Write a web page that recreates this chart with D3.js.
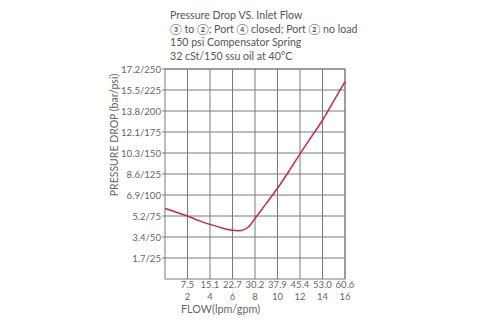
<!DOCTYPE html>
<html><head><meta charset="utf-8">
<script src="https://cdn.jsdelivr.net/npm/d3@7"></script>
<style>body{margin:0;background:#fff}svg{display:block}text{font-family:Lato,"Noto Sans","Noto Sans CJK SC",sans-serif;fill:#666}</style>
</head><body>
<svg id="c" width="478" height="330"></svg>
<script>
const titleLines = ["Pressure Drop VS. Inlet Flow","③ to ②; Port ④ closed; Port ② no load","150 psi Compensator Spring","32 cSt/150 ssu oil at 40°C"];
const xTicksGpm = [2,4,6,8,10,12,14,16];
const xTicksLpm = ["7.5","15.1","22.7","30.2","37.9","45.4","53.0","60.6"];
const yTicksPsi = [25,50,75,100,125,150,175,200,225,250];
const yTicksBar = ["1.7","3.4","5.2","6.9","8.6","10.3","12.1","13.8","15.5","17.2"];
const flowGpm = [0,1,2,3,4,5,6,6.5,7,7.5,8,9,10,11,12,13,14,15,16];
const dropPsi = [84,79.5,75,69.5,65,61,58,57.5,58.5,63,72,90,108,128,149,169,189,212,235];

const svg = d3.select("#c");
const L=165,R=345,T=69,B=279;
const x = d3.scaleLinear().domain([0,16]).range([L,R]);
const y = d3.scaleLinear().domain([0,250]).range([B,T]);

const tf = svg.append("g");
titleLines.forEach((t,i)=>tf.append("text").attr("x",170).attr("y",19+i*13.7).attr("font-size",10.6).style("fill","#555").text(t));

const g = svg.append("g");
g.selectAll(".hg").data(yTicksPsi).join("line").attr("x1",L-3).attr("x2",R).attr("y1",d=>y(d)).attr("y2",d=>y(d)).attr("stroke","#7a7a7a").attr("stroke-width",1);
g.selectAll(".vg").data(xTicksGpm).join("line").attr("x1",d=>x(d)).attr("x2",d=>x(d)).attr("y1",T).attr("y2",B).attr("stroke","#7a7a7a").attr("stroke-width",1);
g.append("rect").attr("x",L).attr("y",T).attr("width",R-L).attr("height",B-T).attr("fill","none").attr("stroke","#7a7a7a").attr("stroke-width",1);

g.selectAll(".yl").data(yTicksPsi).join("text").attr("x",161).attr("y",d=>y(d)+3.5).attr("text-anchor","end").attr("font-size",9.6).text((d,i)=>yTicksBar[i]+"/"+d);
g.selectAll(".xl1").data(xTicksGpm).join("text").attr("x",d=>x(d)).attr("y",288).attr("text-anchor","middle").attr("font-size",9.5).text((d,i)=>xTicksLpm[i]);
g.selectAll(".xl2").data(xTicksGpm).join("text").attr("x",d=>x(d)).attr("y",300).attr("text-anchor","middle").attr("font-size",9.5).text(d=>d);
svg.append("text").attr("x",181).attr("y",313).attr("font-size",10.8).text("FLOW(lpm/gpm)");
svg.append("text").attr("transform","translate(118,135) rotate(-90)").attr("text-anchor","middle").attr("font-size",10.5).text("PRESSURE DROP (bar/psi)");

const line = d3.line().x((d,i)=>x(flowGpm[i])).y(d=>y(d)).curve(d3.curveMonotoneX);
svg.append("path").attr("d",line(dropPsi)).attr("fill","none").attr("stroke","#c42a4f").attr("stroke-width",1.5);
</script>
</body></html>
